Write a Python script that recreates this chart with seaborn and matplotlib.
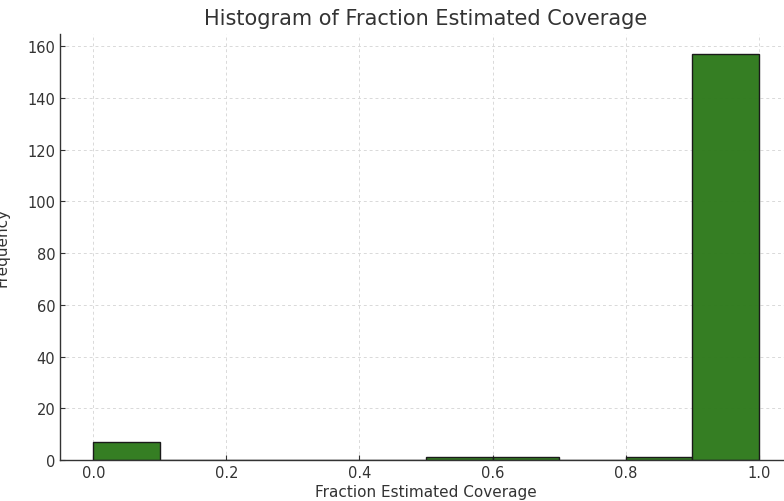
import matplotlib
matplotlib.use("Agg")
import matplotlib.pyplot as plt
import seaborn as sns
import numpy as np

bin_centers = [0.05, 0.15, 0.25, 0.35, 0.45, 0.55, 0.65, 0.75, 0.85, 0.95]
counts = [7, 0, 0, 0, 0, 1, 1, 0, 1, 157]
bin_edges = [0.0, 0.1, 0.2, 0.3, 0.4, 0.5, 0.6, 0.7, 0.8, 0.9, 1.0]

sns.set_style("white")
plt.rcParams['font.family'] = ['DejaVu Sans']

W, H = 784, 502
fig = plt.figure(figsize=(W / 100, H / 100), dpi=100)
left_px, right_px, top_px, bottom_px = 60, 792, 34.5, 461
ax = fig.add_axes([left_px / W, (H - bottom_px) / H,
                   (right_px - left_px) / W, (bottom_px - top_px) / H])

sns.histplot(x=bin_centers, weights=counts, bins=bin_edges, ax=ax,
             color='#2e7a1c', edgecolor='#1a1a1a', linewidth=1.0, alpha=0.97)

ax.set_xlim(-0.05, 1.05)
ax.set_ylim(0, 164.85)
ax.set_xticks([0.0, 0.2, 0.4, 0.6, 0.8, 1.0])
ax.set_yticks(range(0, 161, 20))
ax.grid(True, linestyle=(0, (3, 3)), color='#d9d9d9', linewidth=0.7)
ax.set_axisbelow(True)
for s in ['top', 'right']:
    ax.spines[s].set_visible(False)
for s in ['left', 'bottom']:
    ax.spines[s].set_color('#333333')
    ax.spines[s].set_linewidth(1.0)
ax.tick_params(axis='both', labelsize=10.5, colors='#333333', direction='in',
               length=3.5, width=0.8, pad=3.5, left=True, bottom=True)
ax.set_title('Histogram of Fraction Estimated Coverage', fontsize=15, color='#333333', pad=7)
ax.set_xlabel('Fraction Estimated Coverage', fontsize=11, color='#333333', labelpad=3)
ax.set_ylabel('Frequency', fontsize=11, color='#333333')
ax.yaxis.set_label_coords((9 - left_px) / (right_px - left_px), 0.5)

fig.savefig('out.png', dpi=100)
